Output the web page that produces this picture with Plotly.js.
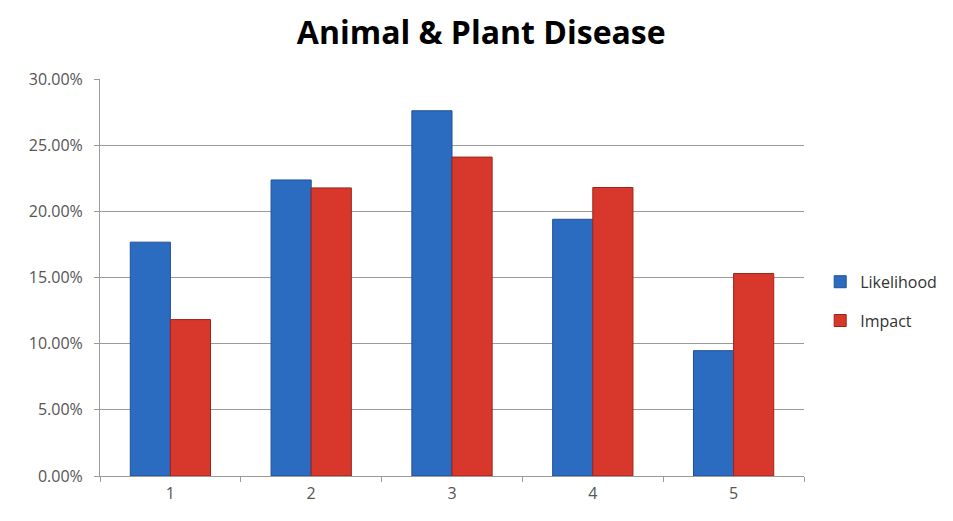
<!DOCTYPE html>
<html>
<head>
<meta charset="utf-8">
<script src="https://cdn.plot.ly/plotly-3.0.1.min.js"></script>
<style>html,body{margin:0;padding:0;background:#fff;}#chart{width:953px;height:521px;}</style>
</head>
<body>
<div id="chart"></div>
<script>
const categories = ["1", "2", "3", "4", "5"];
const likelihood = [0.1767, 0.2237, 0.2760, 0.1940, 0.0947];
const impact = [0.1182, 0.2177, 0.2410, 0.2180, 0.1530];
const yTicks = [0, 0.05, 0.10, 0.15, 0.20, 0.25, 0.30];

const traces = [
  {type: 'bar', name: 'Likelihood', x: categories, y: likelihood, legendgroup: 'a',
   marker: {color: '#2c6cc0', line: {color: '#1f4f95', width: 1}}},
  {type: 'bar', name: 'Impact', x: categories, y: impact, legendgroup: 'b',
   marker: {color: '#d8382c', line: {color: '#9e2219', width: 1}}}
];

const layout = {
  width: 953, height: 521,
  margin: {l: 100, r: 149, t: 79, b: 45, autoexpand: false},
  paper_bgcolor: '#ffffff', plot_bgcolor: '#ffffff',
  title: {text: '<b>Animal & Plant Disease</b>', x: 0.505, xanchor: 'center', y: 0.937, yanchor: 'middle',
          font: {family: 'Open Sans, Liberation Sans, sans-serif', size: 32, color: '#000000'}},
  barmode: 'group', bargap: 0.43, bargroupgap: 0,
  font: {family: 'Open Sans, Liberation Sans, sans-serif', size: 16, color: '#555555'},
  xaxis: {type: 'category', showline: true, linecolor: '#9a9a9a', linewidth: 1,
          ticks: 'outside', tickson: 'boundaries', ticklen: 5, tickcolor: '#9a9a9a',
          ticklabelstandoff: 3,
          showgrid: false, tickfont: {size: 16, color: '#555555'}},
  yaxis: {range: [0, 0.30], tickvals: yTicks, tickformat: '.2%', showline: true,
          linecolor: '#9a9a9a', linewidth: 1, ticks: 'outside', ticklen: 5, tickcolor: '#9a9a9a',
          ticklabelstandoff: 8,
          showgrid: true, gridcolor: '#9a9a9a', gridwidth: 1, zeroline: false,
          tickfont: {size: 16, color: '#555555'}},
  legend: {x: 1.023, xanchor: 'left', y: 0.44, yanchor: 'middle', traceorder: 'grouped',
           font: {size: 16, color: '#333333'}, tracegroupgap: 15, itemwidth: 30}
};

Plotly.newPlot('chart', traces, layout, {displayModeBar: false, staticPlot: true});
</script>
</body>
</html>
